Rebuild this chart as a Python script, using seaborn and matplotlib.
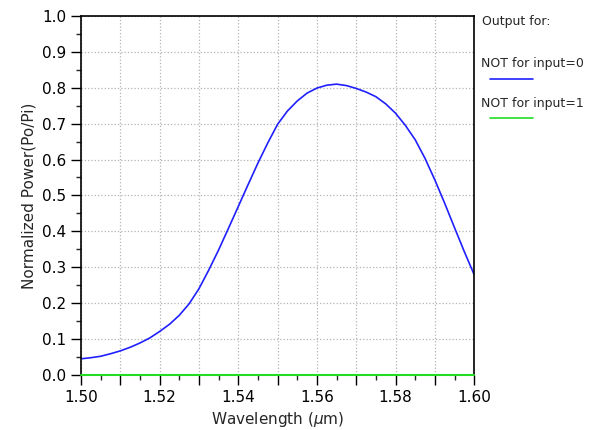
import numpy as np
import pandas as pd
import matplotlib
matplotlib.use("Agg")
import matplotlib.pyplot as plt
import seaborn as sns
from matplotlib.lines import Line2D
from matplotlib.ticker import MultipleLocator, FuncFormatter

wavelength = [1.5000, 1.5025, 1.5050, 1.5075, 1.5100, 1.5125, 1.5150, 1.5175,
              1.5200, 1.5225, 1.5250, 1.5275, 1.5300, 1.5325, 1.5350, 1.5375,
              1.5400, 1.5425, 1.5450, 1.5475, 1.5500, 1.5525, 1.5550, 1.5575,
              1.5600, 1.5625, 1.5650, 1.5675, 1.5700, 1.5725, 1.5750, 1.5775,
              1.5800, 1.5825, 1.5850, 1.5875, 1.5900, 1.5925, 1.5950, 1.5975,
              1.6000]
not_input0 = [0.045, 0.048, 0.052, 0.059, 0.067, 0.077, 0.089, 0.103,
              0.121, 0.141, 0.166, 0.198, 0.240, 0.292, 0.348, 0.408,
              0.469, 0.530, 0.590, 0.646, 0.698, 0.735, 0.763, 0.785,
              0.799, 0.807, 0.810, 0.806, 0.798, 0.788, 0.775, 0.755,
              0.729, 0.695, 0.655, 0.603, 0.543, 0.478, 0.410, 0.343,
              0.279]
not_input1 = [0.0] * len(wavelength)

df = pd.DataFrame({"wl": wavelength, "p0": not_input0, "p1": not_input1})

sns.set_style("ticks")
plt.rcParams["font.family"] = ["DejaVu Sans"]

fig = plt.figure(figsize=(5.95, 4.30), dpi=100)
ax = fig.add_axes([0.136, 0.128, 0.661, 0.835])

sns.lineplot(data=df, x="wl", y="p0", color="#2020ff", lw=1.2, ax=ax)
sns.lineplot(data=df, x="wl", y="p1", color="#22dd22", lw=1.5, ax=ax,
             clip_on=False, zorder=5)

ax.set_xlim(1.5, 1.6)
ax.set_ylim(0, 1.0)
ax.xaxis.set_major_locator(MultipleLocator(0.01))
ax.xaxis.set_minor_locator(MultipleLocator(0.005))
ax.yaxis.set_major_locator(MultipleLocator(0.1))
ax.yaxis.set_minor_locator(MultipleLocator(0.05))
ax.xaxis.set_major_formatter(
    FuncFormatter(lambda v, p: "%.2f" % v if round(v * 100) % 2 == 0 else ""))
ax.yaxis.set_major_formatter(FuncFormatter(lambda v, p: "%.1f" % v))
ax.tick_params(which="major", direction="out", length=7, width=1,
               labelsize=11, colors="black")
ax.tick_params(which="minor", direction="out", length=3.5, width=1)
ax.grid(True, which="major", color="#b4b4b4", linestyle=":", linewidth=0.9)
for s in ax.spines.values():
    s.set_color("black")
    s.set_linewidth(1.2)

ax.set_xlabel("Wavelength ($\\mu$m)", fontsize=11)
ax.set_ylabel("Normalized Power(Po/Pi)", fontsize=11)

fig.text(0.810, 0.950, "Output for:", fontsize=9, va="center")
fig.text(0.808, 0.853, "NOT for input=0", fontsize=9, va="center")
fig.add_artist(Line2D([0.823, 0.896], [0.816, 0.816], color="#2020ff", lw=1.2))
fig.text(0.808, 0.760, "NOT for input=1", fontsize=9, va="center")
fig.add_artist(Line2D([0.823, 0.896], [0.726, 0.726], color="#22dd22", lw=1.2))

fig.savefig("out.png", dpi=100)
